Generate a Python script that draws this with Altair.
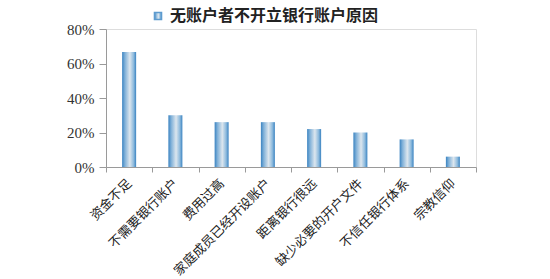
import altair as alt
import pandas as pd

# Reasons given by the unbanked for not opening a bank account
reasons = ["资金不足", "不需要银行账户", "费用过高", "家庭成员已经开设账户",
           "距离银行很远", "缺少必要的开户文件", "不信任银行体系", "宗教信仰"]
shares = [0.667, 0.30, 0.26, 0.26, 0.22, 0.20, 0.16, 0.06]
series_name = "无账户者不开立银行账户原因"

df = pd.DataFrame({"reason": reasons, "share": shares, "series": series_name})

bar_fill = alt.Gradient(
    gradient="linear",
    x1=0, x2=1, y1=0, y2=0,
    stops=[
        alt.GradientStop(color="#3a83c1", offset=0),
        alt.GradientStop(color="#7fb0d8", offset=0.2),
        alt.GradientStop(color="#dce6ee", offset=0.55),
        alt.GradientStop(color="#8dbadd", offset=0.82),
        alt.GradientStop(color="#3a83c1", offset=1),
    ],
)

chart = (
    alt.Chart(df)
    .mark_bar(fill=bar_fill, strokeWidth=0, width=14)
    .encode(
        x=alt.X(
            "reason:N",
            sort=reasons,
            title=None,
            scale=alt.Scale(paddingInner=0.0, paddingOuter=0.0),
            axis=alt.Axis(
                labelAngle=-45,
                labelAlign="right",
                labelBaseline="middle",
                labelFont="Noto Sans CJK SC",
                labelFontSize=13,
                labelColor="#222222",
                labelPadding=9,
                tickBand="extent",
                tickSize=5,
                tickColor="#9a9a9a",
                domainColor="#9a9a9a",
                labelOverlap=False,
            ),
        ),
        y=alt.Y(
            "share:Q",
            title=None,
            scale=alt.Scale(domain=[0, 0.8]),
            axis=alt.Axis(
                values=[0, 0.2, 0.4, 0.6, 0.8],
                format=".0%",
                grid=False,
                labelFont="Liberation Serif",
                labelFontSize=15,
                labelColor="#333333",
                labelPadding=5,
                tickSize=7,
                tickColor="#9a9a9a",
                domainColor="#9a9a9a",
            ),
        ),
        stroke=alt.Stroke(
            "series:N",
            scale=alt.Scale(range=["#5d9bcf"]),
            legend=alt.Legend(
                title=None,
                orient="none",
                legendX=44,
                legendY=-21,
                symbolType="square",
                symbolSize=50,
                symbolFillColor="#b9d2e6",
                symbolStrokeWidth=1.5,
                labelFont="Noto Sans CJK SC",
                labelFontSize=16,
                labelFontWeight="bold",
                labelColor="#222222",
                labelLimit=400,
            ),
        ),
    )
    .properties(
        width=370,
        height=138,
        padding={"left": 106, "top": 29, "right": 74, "bottom": 112},
        autosize=alt.AutoSizeParams(type="none"),
    )
    .configure_view(stroke=None)
    .configure(background="white")
)

chart.save("out.html", embed_options={"renderer": "svg", "actions": False})
